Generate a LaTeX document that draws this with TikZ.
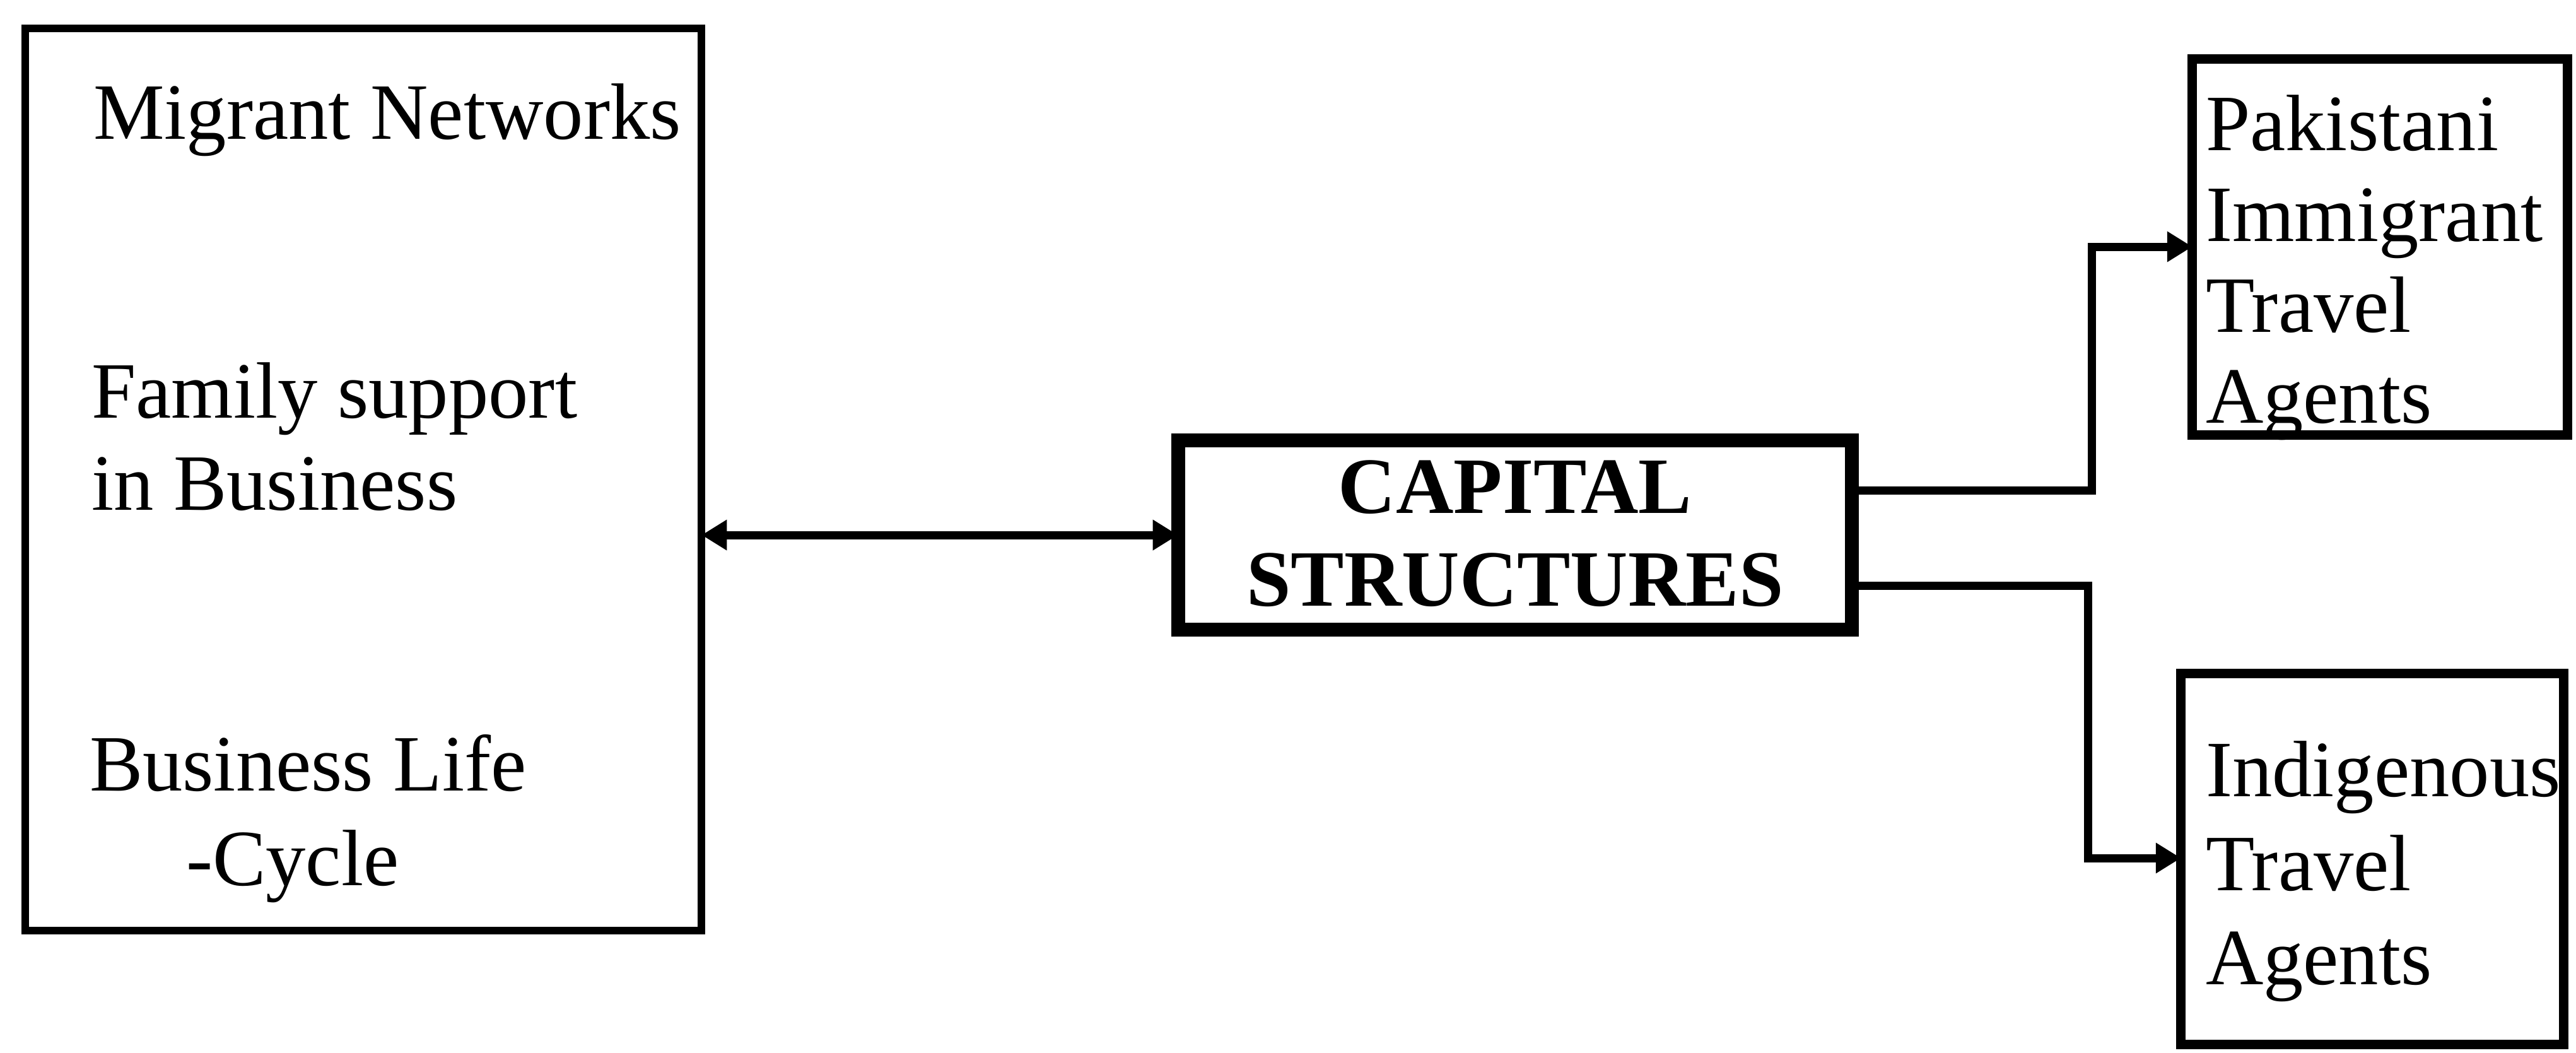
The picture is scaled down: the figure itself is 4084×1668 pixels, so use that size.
\documentclass[tikz,border=0pt]{standalone}
\usepackage{fontspec}
\setmainfont{Liberation Serif}
\usetikzlibrary{arrows.meta}
\begin{document}
\begin{tikzpicture}[x=0.01cm,y=-0.01cm,
  box/.style={draw, inner sep=0pt, outer sep=0pt, line width=#1},
  lbl/.style={anchor=base west, inner sep=0pt, outer sep=0pt, font=\fontsize{36}{40}\selectfont},
  title/.style={anchor=base, inner sep=0pt, outer sep=0pt, font=\bfseries\fontsize{36}{40}\selectfont},
  tip/.tip={Triangle[length=0.4cm,width=0.46cm]},
  conn/.style={line width=0.13cm, -tip},
  ]
\useasboundingbox[fill=white] (0,0) rectangle (4084,1668);

% left box: influencing factors
\node[box=0.12cm, minimum width=10.72cm, minimum height=14.3cm] (L) at (576,760) {};
\node[lbl] (mn)  at (148,220)  {Migrant Networks};
\node[lbl] (fs1) at (145,662)  {Family support};
\node[lbl] (fs2) at (145,808)  {in Business};
\node[lbl] (bl1) at (142,1253) {Business Life};
\node[lbl] (bl2) at (295,1403) {-Cycle};

% central box
\node[box=0.22cm, minimum width=10.68cm, minimum height=3cm] (C) at (2402,848) {};
\node[title] (cap) at (2402,813) {CAPITAL};
\node[title] (str) at (2402,960) {STRUCTURES};

% top right box
\node[box=0.15cm, minimum width=5.94cm, minimum height=5.95cm] (T) at (3773,391.5) {};
\node[lbl] (t1) at (3497,238) {Pakistani};
\node[lbl] (t2) at (3497,382) {Immigrant};
\node[lbl] (t3) at (3497,526) {Travel};
\node[lbl] (t4) at (3497,670) {Agents};

% bottom right box
\node[box=0.15cm, minimum width=6.06cm, minimum height=5.87cm] (B) at (3761,1361.5) {};
\node[lbl] (b1) at (3497,1262) {Indigenous};
\node[lbl] (b2) at (3497,1411) {Travel};
\node[lbl] (b3) at (3497,1560) {Agents};

% connectors
\draw[conn, tip-tip] (C.west -| L.east) -- (C.west);
\coordinate (tb) at (3316,777);
\coordinate (tt) at (3316,391);
\draw[conn] (C.east |- tb) -- (tb) -- (tt) -- (tt -| T.west);
\coordinate (bb) at (3310,928);
\coordinate (bt) at (3310,1360);
\draw[conn] (C.east |- bb) -- (bb) -- (bt) -- (bt -| B.west);
\end{tikzpicture}
\end{document}
